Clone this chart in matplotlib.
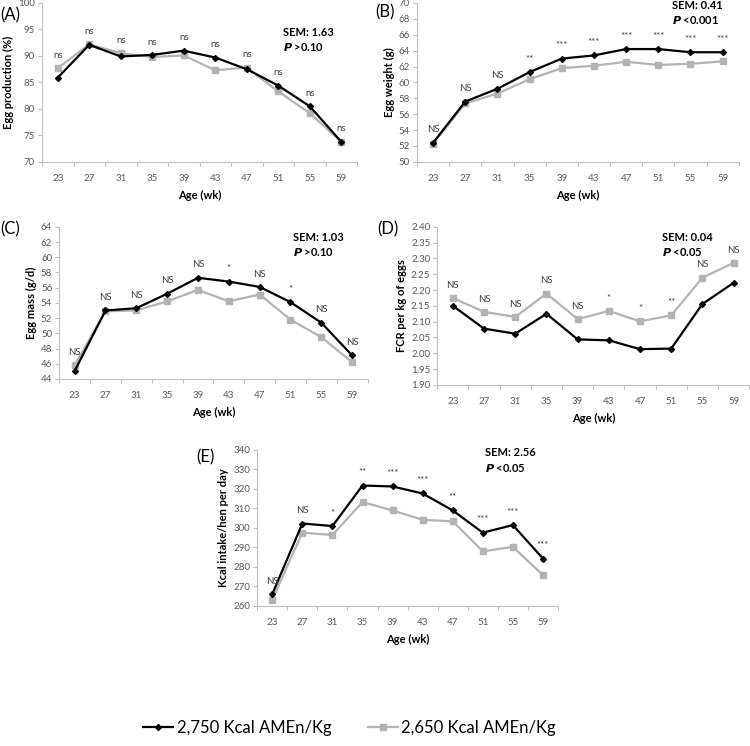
import matplotlib
matplotlib.use("Agg")
import matplotlib.pyplot as plt
from matplotlib.lines import Line2D

plt.rcParams['font.family'] = ['Lato', 'DejaVu Sans']

ages = ['23', '27', '31', '35', '39', '43', '47', '51', '55', '59']

# (A) egg production, %
prod_hi = [85.9, 92.1, 89.9, 90.2, 91.0, 89.7, 87.5, 84.4, 80.5, 73.8]
prod_lo = [87.7, 92.2, 90.5, 89.8, 90.1, 87.3, 87.8, 83.3, 79.2, 73.8]
prod_sig = ['ns'] * 10

# (B) egg weight, g
wt_hi = [52.4, 57.6, 59.2, 61.3, 63.0, 63.4, 64.2, 64.2, 63.8, 63.8]
wt_lo = [52.3, 57.35, 58.6, 60.4, 61.8, 62.1, 62.6, 62.2, 62.35, 62.65]
wt_sig = ['NS', 'NS', 'NS', '**', '***', '***', '***', '***', '***', '***']

# (C) egg mass, g/d
mass_hi = [45.05, 53.0, 53.3, 55.2, 57.3, 56.8, 56.1, 54.1, 51.4, 47.1]
mass_lo = [45.8, 52.9, 53.0, 54.2, 55.7, 54.2, 55.1, 51.8, 49.5, 46.2]
mass_sig = ['NS', 'NS', 'NS', 'NS', 'NS', '*', 'NS', '*', 'NS', 'NS']

# (D) FCR per kg of eggs
fcr_hi = [2.150, 2.078, 2.062, 2.125, 2.044, 2.041, 2.013, 2.015, 2.156, 2.223]
fcr_lo = [2.175, 2.131, 2.115, 2.189, 2.108, 2.134, 2.101, 2.120, 2.239, 2.286]
fcr_sig = ['NS', 'NS', 'NS', 'NS', 'NS', '*', '*', '**', 'NS', 'NS']

# (E) kcal intake / hen per day
kcal_hi = [266.0, 302.2, 300.9, 321.7, 321.2, 317.6, 308.9, 297.5, 301.4, 284.2]
kcal_lo = [263.2, 297.5, 296.3, 313.2, 308.9, 304.1, 303.3, 287.9, 290.2, 275.7]
kcal_sig = ['NS', 'NS', '*', '**', '***', '***', '**', '***', '***', '***']

label_hi = '2,750 Kcal AMEn/Kg'
label_lo = '2,650 Kcal AMEn/Kg'

black = 'black'
grey = '#b3b3b3'
axcol = '#bfbfbf'
tickcol = '#595959'

fig = plt.figure(figsize=(7.5, 7.46), dpi=100)


def panel(rect, hi, lo, sig, ylim, yticks, ylabel, fmt):
    ax = fig.add_axes(rect)
    x = range(len(ages))
    ax.plot(x, lo, color=grey, lw=1.6, marker='s', ms=4.5, zorder=2)
    ax.plot(x, hi, color=black, lw=1.6, marker='D', ms=3, zorder=3)
    for i, s in enumerate(sig):
        ax.annotate(s, (i, max(hi[i], lo[i])), xytext=(0, 6),
                    textcoords='offset points', ha='center', va='bottom',
                    fontsize=7, color='#404040')
    ax.set_xlim(-0.5, len(ages) - 0.5)
    ax.set_ylim(*ylim)
    ax.set_xticks(list(x))
    ax.set_xticklabels(ages)
    ax.set_xticks([i - 0.5 for i in range(len(ages) + 1)], minor=True)
    ax.set_yticks(yticks)
    ax.set_yticklabels([fmt.format(v) for v in yticks])
    ax.tick_params(axis='x', which='major', length=0, pad=9,
                   labelsize=7, labelcolor=tickcol)
    ax.tick_params(axis='x', which='minor', length=3, color=axcol, width=0.8)
    ax.tick_params(axis='y', length=3, color=axcol, width=0.8,
                   labelsize=7, labelcolor=tickcol, pad=2)
    for sp in ['top', 'right']:
        ax.spines[sp].set_visible(False)
    for sp in ['left', 'bottom']:
        ax.spines[sp].set_color(axcol)
        ax.spines[sp].set_linewidth(0.8)
    ax.set_xlabel('Age (wk)', fontsize=8, fontweight='bold', labelpad=5)
    ax.set_ylabel(ylabel, fontsize=8, fontweight='bold', labelpad=3)
    return ax


panel([0.056, 0.783, 0.420, 0.213], prod_hi, prod_lo, prod_sig,
      (70, 100), list(range(70, 101, 5)), 'Egg production (%)', '{:d}')
panel([0.556, 0.783, 0.429, 0.213], wt_hi, wt_lo, wt_sig,
      (50, 70), list(range(50, 71, 2)), 'Egg weight (g)', '{:d}')
panel([0.079, 0.492, 0.411, 0.204], mass_hi, mass_lo, mass_sig,
      (44, 64), list(range(44, 65, 2)), 'Egg mass (g/d)', '{:d}')
panel([0.583, 0.484, 0.416, 0.212], fcr_hi, fcr_lo, fcr_sig,
      (1.90, 2.40), [1.90 + 0.05 * i for i in range(11)],
      'FCR per kg of eggs', '{:.2f}')
panel([0.343, 0.188, 0.401, 0.209], kcal_hi, kcal_lo, kcal_sig,
      (260, 340), list(range(260, 341, 10)), 'Kcal intake/hen per day', '{:d}')

# panel letters
for txt, x, y in [('(A)', 0.0, 0.980), ('(B)', 0.500, 0.983),
                  ('(C)', 0.0, 0.692), ('(D)', 0.503, 0.692),
                  ('(E)', 0.262, 0.387)]:
    fig.text(x, y, txt, fontsize=12, va='center', ha='left')

# SEM / P boxes
for sem, p, x, y in [('1.63', '>0.10', 0.377, 0.957),
                     ('0.41', '<0.001', 0.896, 0.993),
                     ('1.03', '>0.10', 0.391, 0.682),
                     ('0.04', '<0.05', 0.883, 0.682),
                     ('2.56', '<0.05', 0.647, 0.393)]:
    fig.text(x, y, 'SEM: ' + sem, fontsize=8, fontweight='bold', va='center')
    fig.text(x, y - 0.020, r'$\bfit{P}$ ' + p, fontsize=8, fontweight='bold',
             va='center')

handles = [Line2D([], [], color=black, lw=1.6, marker='D', ms=3),
           Line2D([], [], color=grey, lw=1.6, marker='s', ms=4.5)]
fig.legend(handles, [label_hi, label_lo], loc='center', ncol=2,
           bbox_to_anchor=(0.466, 0.024), frameon=False, fontsize=12,
           handlelength=1.8, handletextpad=0.2, columnspacing=2.2)

fig.savefig('out.png', dpi=100)
